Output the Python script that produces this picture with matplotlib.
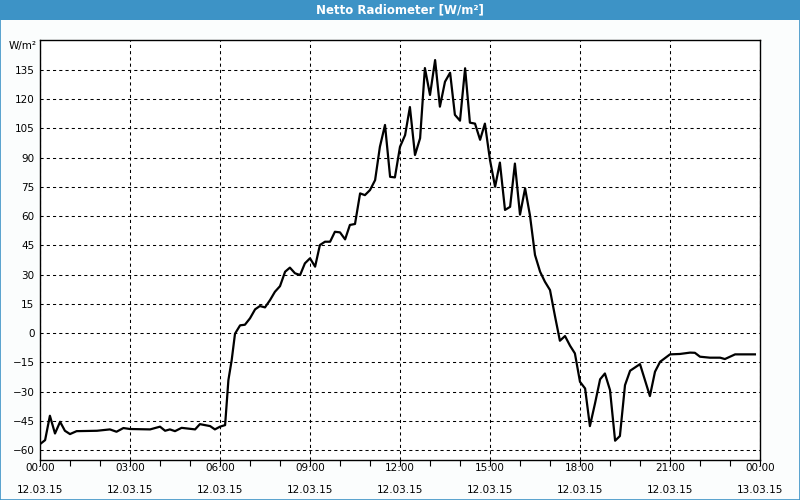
import matplotlib
matplotlib.use("Agg")
import matplotlib.pyplot as plt
from matplotlib.patches import Rectangle

TITLE = "Netto Radiometer [W/m²]"
UNIT = "W/m²"
BAR_COLOR = "#3d93c6"

# time of day in hours, net radiation in W/m2
hours = [0.03, 0.17, 0.33, 0.5, 0.67, 0.83, 1.0, 1.22, 1.9, 2.33, 2.55, 2.78,
         3.0, 3.67, 4.0, 4.17, 4.33, 4.5, 4.72, 5.17, 5.33, 5.67, 5.83, 6.0,
         6.17, 6.28, 6.39, 6.5, 6.67, 6.83, 7.0, 7.17, 7.33, 7.5, 7.67, 7.83,
         8.0, 8.17, 8.33, 8.5, 8.67, 8.83, 9.0, 9.17, 9.33, 9.5, 9.67, 9.83,
         10.0, 10.17, 10.33, 10.5, 10.67, 10.83, 11.0, 11.17, 11.33, 11.5,
         11.67, 11.83, 12.0, 12.17, 12.33, 12.5, 12.67, 12.83, 13.0, 13.17,
         13.33, 13.5, 13.67, 13.83, 14.0, 14.17, 14.33, 14.5, 14.67, 14.83,
         15.0, 15.17, 15.33, 15.5, 15.67, 15.83, 16.0, 16.17, 16.33, 16.5,
         16.67, 16.83, 17.0, 17.17, 17.33, 17.5, 17.67, 17.83, 18.0, 18.17,
         18.33, 18.5, 18.67, 18.83, 19.0, 19.17, 19.33, 19.5, 19.67, 20.0,
         20.33, 20.5, 20.67, 21.0, 21.33, 21.67, 21.83, 22.0, 22.33, 22.67,
         22.83, 23.17, 23.83]
values = [-56.6, -54.9, -42.4, -51.5, -45.5, -50.1, -51.8, -50.3, -50.1, -49.4, -50.6, -48.7,
          -49.2, -49.4, -48.0, -50.1, -49.4, -50.3, -48.6, -49.4, -46.7, -47.7, -49.4, -48.0,
          -47.2, -24.1, -13.8, -0.3, 4.0, 4.3, 7.6, 12.2, 13.9, 13.2, 17.0, 21.2,
          24.1, 31.5, 33.6, 30.7, 29.8, 35.8, 38.4, 34.1, 45.2, 46.9, 46.9, 52.0,
          51.7, 48.1, 55.5, 56.0, 71.7, 70.8, 73.4, 78.5, 95.6, 106.8,
          80.2, 79.9, 95.6, 101.6, 116.0, 91.4, 100.0, 136.0, 122.2, 140.1,
          116.2, 129.0, 133.6, 112.0, 109.0, 135.9, 108.0, 107.5, 99.2, 107.5,
          88.8, 75.1, 87.5, 63.2, 64.8, 87.0, 60.8, 74.3, 60.6, 40.1,
          31.5, 26.4, 22.1, 8.4, -3.9, -1.5, -6.5, -10.4, -25.0, -28.4,
          -47.7, -36.1, -23.7, -20.7, -29.2, -55.2, -52.8, -26.7, -19.3, -15.9,
          -32.3, -19.8, -14.7, -10.9, -10.7, -10.0, -10.1, -12.1, -12.6, -12.6,
          -13.3, -10.9, -10.9]

x_ticks = [0, 3, 6, 9, 12, 15, 18, 21, 24]
x_labels = ["00:00\n12.03.15", "03:00\n12.03.15", "06:00\n12.03.15",
            "09:00\n12.03.15", "12:00\n12.03.15", "15:00\n12.03.15",
            "18:00\n12.03.15", "21:00\n12.03.15", "00:00\n13.03.15"]
y_ticks = [-60, -45, -30, -15, 0, 15, 30, 45, 60, 75, 90, 105, 120, 135]

fig = plt.figure(figsize=(8, 5), dpi=100, facecolor="#fbfdfd")

# window title bar + border
fig.patches.append(Rectangle((0, 0.96), 1, 0.04, transform=fig.transFigure,
                             facecolor=BAR_COLOR, edgecolor="none", zorder=0))
fig.patches.append(Rectangle((0.0006, 0.001), 0.9988, 0.998, transform=fig.transFigure,
                             facecolor="none", edgecolor=BAR_COLOR, lw=1.2, zorder=5))
fig.text(0.5, 0.98, TITLE, color="white", fontsize=8.5, fontweight="bold",
         ha="center", va="center")
fig.text(0.046, 0.908, UNIT, fontsize=7.5, ha="right", va="center")

ax = fig.add_axes([0.05, 0.08, 0.90, 0.84])
ax.set_facecolor("white")
ax.plot(hours, values, color="black", lw=1.6, zorder=3)

ax.set_xlim(0, 24)
ax.set_ylim(-65.1, 150.4)
ax.set_xticks(x_ticks)
ax.set_xticklabels(x_labels, fontsize=7.5, linespacing=2.45)
ax.set_xticks(range(25), minor=True)
ax.set_yticks(y_ticks)
ax.tick_params(axis="x", which="both", length=4, width=0.8, direction="out", pad=-1.5)
ax.tick_params(axis="y", length=0, labelsize=7.5, pad=4)
ax.grid(True, which="major", color="black", ls=(0, (3, 3)), lw=0.75)

for s in ax.spines.values():
    s.set_linewidth(1.0)
    s.set_color("black")

fig.savefig("out.png", dpi=100, facecolor=fig.get_facecolor())
